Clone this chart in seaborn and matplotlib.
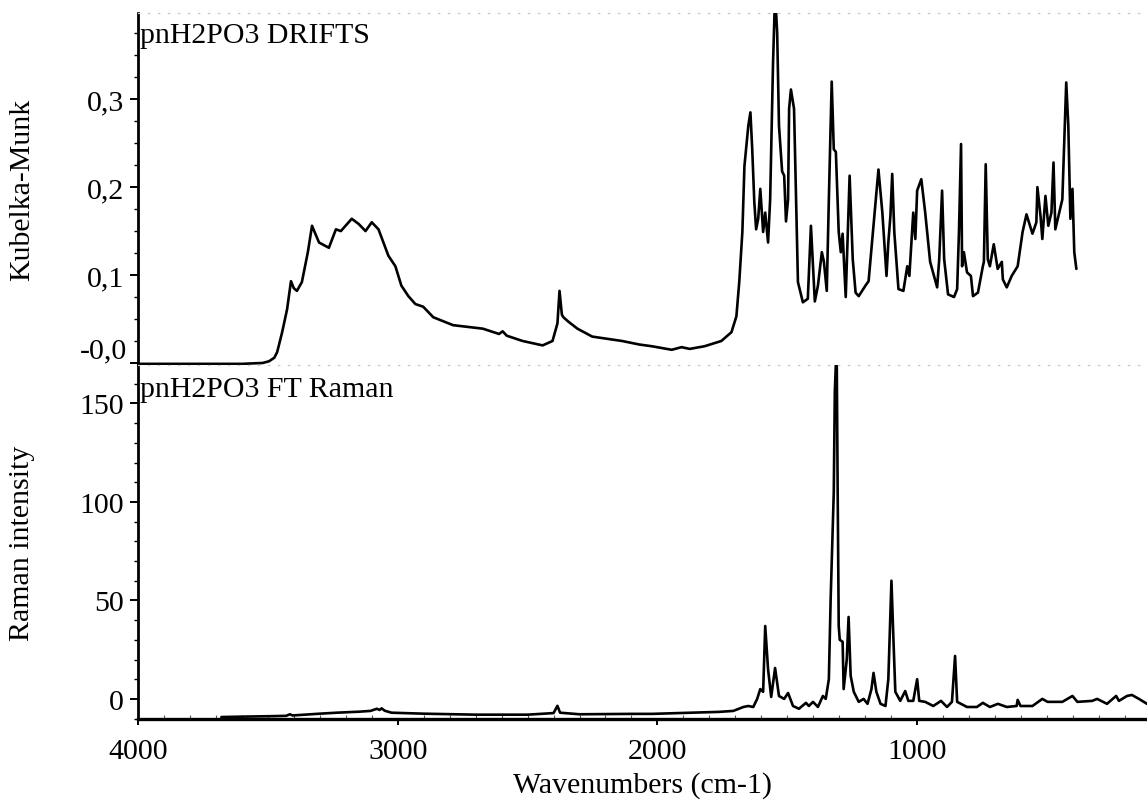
import numpy as np
import pandas as pd
import matplotlib
matplotlib.use("Agg")
import matplotlib.pyplot as plt
import seaborn as sns
from matplotlib.ticker import MultipleLocator, FixedLocator, FuncFormatter

# ---------------- data ----------------
drifts_wn = [3995, 3800, 3600, 3520, 3495, 3475, 3464, 3445, 3426, 3411, 3400, 3388, 3369,
             3346, 3330, 3303, 3265, 3238, 3219, 3177, 3150, 3124, 3100, 3074, 3036, 3009,
             2986, 2959, 2932, 2902, 2863, 2787, 2672, 2610, 2596, 2580, 2519, 2442, 2404,
             2385, 2377, 2368, 2362, 2343, 2308, 2251, 2205, 2136, 2070, 2021, 1945, 1907,
             1876, 1819, 1754, 1715, 1696, 1685, 1673, 1665, 1650, 1642, 1635, 1627, 1620,
             1612, 1604, 1593, 1585, 1574, 1566, 1555, 1547, 1539, 1532, 1520, 1512, 1505,
             1497, 1493, 1486, 1474, 1466, 1459, 1440, 1421, 1409, 1401, 1394, 1382, 1367,
             1359, 1348, 1340, 1329, 1321, 1313, 1302, 1294, 1287, 1275, 1267, 1260, 1248,
             1237, 1225, 1199, 1187, 1168, 1149, 1134, 1118, 1111, 1103, 1096, 1088, 1072,
             1053, 1038, 1030, 1015, 1007, 1000, 984, 969, 950, 923, 915, 904, 896, 881,
             858, 846, 839, 831, 827, 820, 808, 793, 785, 766, 747, 743, 736, 728, 720,
             705, 690, 674, 670, 655, 636, 613, 594, 579, 556, 541, 537, 525, 518, 506,
             495, 483, 475, 468, 456, 441, 426, 418, 410, 402, 395, 387]
drifts_km = [-0.001, -0.001, -0.001, 0.0, 0.002, 0.006, 0.0125, 0.035, 0.061, 0.093, 0.085,
             0.082, 0.092, 0.126, 0.156, 0.137, 0.131, 0.152, 0.150, 0.164, 0.158, 0.150,
             0.160, 0.152, 0.122, 0.110, 0.088, 0.076, 0.067, 0.064, 0.052, 0.043, 0.039,
             0.033, 0.036, 0.031, 0.025, 0.020, 0.025, 0.045, 0.082, 0.055, 0.052, 0.047,
             0.039, 0.030, 0.028, 0.025, 0.021, 0.019, 0.015, 0.018, 0.016, 0.019, 0.025,
             0.035, 0.053, 0.092, 0.149, 0.224, 0.270, 0.285, 0.243, 0.183, 0.152, 0.164,
             0.198, 0.149, 0.171, 0.137, 0.186, 0.340, 0.420, 0.376, 0.270, 0.218, 0.213,
             0.161, 0.186, 0.289, 0.311, 0.289, 0.186, 0.092, 0.069, 0.073, 0.156, 0.110,
             0.070, 0.088, 0.126, 0.115, 0.082, 0.186, 0.320, 0.243, 0.240, 0.149, 0.126,
             0.147, 0.075, 0.149, 0.213, 0.118, 0.080, 0.076, 0.088, 0.093, 0.156, 0.220,
             0.171, 0.099, 0.137, 0.167, 0.215, 0.149, 0.084, 0.082, 0.110, 0.099, 0.171,
             0.141, 0.196, 0.209, 0.171, 0.115, 0.086, 0.118, 0.196, 0.118, 0.078, 0.075,
             0.084, 0.149, 0.249, 0.110, 0.126, 0.103, 0.099, 0.076, 0.080, 0.110, 0.115,
             0.226, 0.118, 0.110, 0.135, 0.107, 0.115, 0.095, 0.086, 0.099, 0.110, 0.149,
             0.169, 0.147, 0.160, 0.200, 0.167, 0.141, 0.190, 0.156, 0.171, 0.228, 0.152,
             0.167, 0.186, 0.319, 0.270, 0.164, 0.198, 0.126, 0.107]

raman_wn = [3679, 3600, 3500, 3430, 3415, 3405, 3300, 3235, 3150, 3105, 3080, 3070, 3062,
            3050, 3024, 2900, 2700, 2500, 2400, 2385, 2375, 2300, 2100, 2021, 1895, 1765,
            1708, 1669, 1650, 1631, 1616, 1604, 1593, 1585, 1574, 1562, 1547, 1532, 1512,
            1497, 1478, 1455, 1428, 1417, 1401, 1382, 1363, 1352, 1340, 1333, 1321, 1317,
            1310, 1306, 1302, 1298, 1287, 1283, 1271, 1264, 1256, 1244, 1225, 1206, 1191,
            1176, 1168, 1157, 1141, 1122, 1111, 1099, 1091, 1084, 1065, 1046, 1034, 1015,
            1000, 992, 969, 938, 908, 885, 866, 854, 846, 808, 770, 747, 720, 689, 655,
            617, 613, 602, 556, 518, 498, 441, 402, 383, 326, 307, 269, 234, 223, 192,
            173, 146, 115]
raman_int = [-9.2, -9.0, -8.8, -8.6, -7.8, -8.4, -7.5, -7.0, -6.5, -6.1, -5.0, -5.6, -4.8,
             -6.0, -7.0, -7.5, -8.0, -8.0, -7.2, -3.5, -7.0, -7.8, -7.6, -7.6, -7.1, -6.6,
             -6.1, -4.1, -3.6, -4.1, 0.0, 5.0, 3.6, 37.0, 15.0, 1.0, 15.7, 1.5, 0.0, 3.0,
             -3.6, -5.0, -2.0, -3.6, -1.5, -4.1, 1.5, 0.0, 10.0, 51.0, 105.0, 156.0, 180.0,
             105.0, 37.0, 30.0, 29.0, 5.0, 20.0, 41.6, 11.8, 3.6, -1.5, 0.0, -2.5, 5.0,
             13.2, 3.6, -2.5, -3.6, 10.0, 60.0, 29.0, 3.6, -1.0, 4.0, -1.0, -1.0, 10.0,
             -1.0, -1.5, -3.6, -1.0, -4.1, -1.5, 21.8, -1.5, -4.1, -4.1, -2.0, -4.1, -2.5,
             -4.1, -3.6, -0.5, -3.6, -3.6, 0.0, -1.5, -1.5, 1.5, -1.5, -1.0, 0.0, -2.5,
             1.5, -1.0, 1.5, 2.0, 0.0, -2.5]

drifts_label = "pnH2PO3 DRIFTS"
raman_label = "pnH2PO3 FT Raman"
km_ticks = [0.0, 0.1, 0.2, 0.3]
km_ticklabels = ["-0,0", "0,1", "0,2", "0,3"]
raman_ticks = [0, 50, 100, 150]
wn_ticks = [4000, 3000, 2000, 1000]

df_d = pd.DataFrame({"wn": drifts_wn, "km": drifts_km})
df_r = pd.DataFrame({"wn": raman_wn, "ri": raman_int})

# ---------------- style ----------------
sns.set_theme(style="ticks")
plt.rcParams["font.family"] = ["Liberation Serif", "DejaVu Serif"]
FS = 21.5

W, H = 1147, 803
fig = plt.figure(figsize=(W / 100, H / 100), dpi=100)
left = 138 / W
ax_top = fig.add_axes([left, 1 - 366 / H, 1 - left, (366 - 14) / H])
ax_bot = fig.add_axes([left, 1 - 720 / H, 1 - left, (720 - 366) / H], sharex=ax_top)

sns.lineplot(data=df_d, x="wn", y="km", ax=ax_top, sort=False, estimator=None,
             color="black", linewidth=1.9)
sns.lineplot(data=df_r, x="wn", y="ri", ax=ax_bot, sort=False, estimator=None,
             color="black", linewidth=1.9)

ax_bot.set_xlim(4000, 115)
ax_top.set_ylim(-0.0023, 0.398)
ax_bot.set_ylim(-10.2, 169.5)

for ax in (ax_top, ax_bot):
    ax.spines["right"].set_visible(False)
    ax.spines["top"].set_color("#c8c8c8")
    ax.spines["top"].set_linestyle((0, (1, 7)))
    ax.spines["top"].set_linewidth(0.9)
    ax.spines["left"].set_linewidth(2.0)
    ax.spines["left"].set_color("black")
    ax.set_xlabel("")
    ax.set_ylabel("")
    ax.tick_params(axis="y", which="major", direction="out", length=6, width=1.4,
                   color="black", labelsize=FS, pad=4, labelcolor="black")
    ax.tick_params(axis="y", which="minor", direction="out", length=3, width=1.0,
                   color="black")

ax_top.spines["bottom"].set_visible(False)
ax_top.tick_params(axis="x", which="both", bottom=False, labelbottom=False)
ax_bot.spines["bottom"].set_linewidth(2.4)
ax_bot.spines["bottom"].set_color("black")

ax_top.yaxis.set_major_locator(FixedLocator(km_ticks))
ax_top.set_yticklabels([""] + km_ticklabels[1:])
ax_top.yaxis.set_minor_locator(MultipleLocator(0.025))
# the zero label of the upper panel sits a little above its tick in the original
ax_top.annotate(km_ticklabels[0], xy=(0, km_ticks[0]), xycoords=("axes fraction", "data"),
                xytext=(-11, 13), textcoords="offset pixels", ha="right", va="center",
                fontsize=FS, color="black", annotation_clip=False)

ax_bot.yaxis.set_major_locator(FixedLocator(raman_ticks))
ax_bot.yaxis.set_minor_locator(MultipleLocator(10))

ax_bot.xaxis.set_major_locator(FixedLocator(wn_ticks))
ax_bot.xaxis.set_minor_locator(MultipleLocator(100))
ax_bot.xaxis.set_major_formatter(FuncFormatter(lambda v, p: f"{int(v)}"))
ax_bot.tick_params(axis="x", which="major", direction="out", length=4, width=1.4,
                   color="black", labelsize=FS, pad=10, labelcolor="black")
ax_bot.tick_params(axis="x", which="minor", direction="in", length=3, width=0.8,
                   color="#555555")

fig.text(140 / W, 1 - 43 / H, drifts_label, fontsize=FS, ha="left", va="baseline",
         color="black")
fig.text(140 / W, 1 - 397 / H, raman_label, fontsize=FS, ha="left", va="baseline",
         color="black")

fig.text(22 / W, 1 - 190 / H, "Kubelka-Munk", rotation=90, fontsize=FS,
         ha="center", va="center", color="black")
fig.text(22 / W, 1 - 543 / H, "Raman intensity", rotation=90, fontsize=FS,
         ha="center", va="center", color="black")
fig.text((138 + 1147) / 2 / W, 1 - 786 / H, "Wavenumbers (cm-1)", fontsize=FS,
         ha="center", va="center", color="black")

fig.savefig("out.png", dpi=100, facecolor="white")
